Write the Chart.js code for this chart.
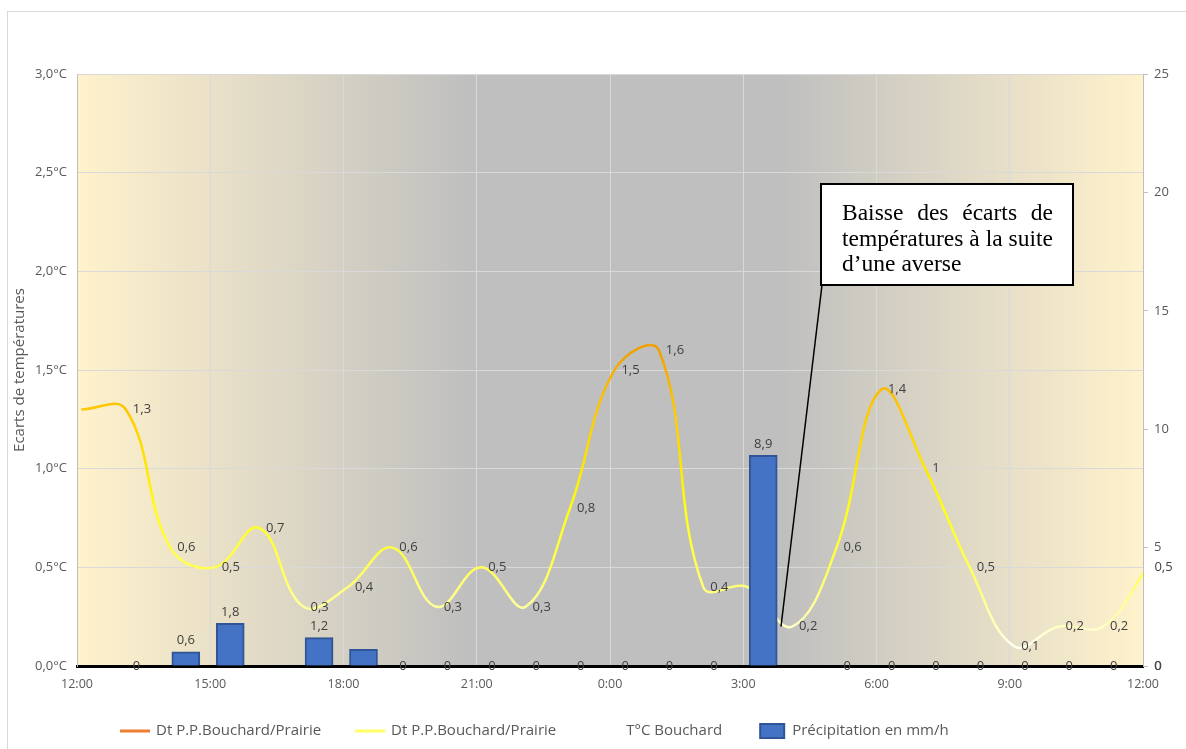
<!DOCTYPE html>
<html>
<head>
<meta charset="utf-8">
<script src="https://cdn.jsdelivr.net/npm/chart.js@4.4.1/dist/chart.umd.min.js"></script>
<style>
    html, body { margin: 0; padding: 0; background: #fff; }
    #wrap { position: relative; width: 1186px; height: 749px; }
</style>
</head>
<body>
<div id="wrap"><canvas id="chart"></canvas></div>
<script>
// heures écoulées depuis 12:00
const hours = [0.1, 1.1, 2.1, 3.1, 4.1, 5.1, 6.1, 7.1, 8.1, 9.1, 10.1, 11.1, 12.1,
    13.1, 14.1, 15.1, 16.1, 17.1, 18.1, 19.1, 20.1, 21.1, 22.1, 23.1, 24.1];
const ecarts = [1.3, 1.3, 0.6, 0.5, 0.7, 0.3, 0.4, 0.6, 0.3, 0.5, 0.3, 0.8, 1.5,
    1.6, 0.4, 0.4, 0.2, 0.6, 1.4, 1.0, 0.5, 0.1, 0.2, 0.2, 0.5];
const tempBouchard = [null, 0, null, null, null, null, null, 0, 0, 0, 0, 0, 0,
    0, 0, null, null, 0, 0, 0, 0, 0, 0, 0, 0];
const precipitation = [0, 0, 0.6, 1.8, 0, 1.2, 0.7, 0, 0, 0, 0, 0, 0,
    0, 0, 8.9, 0, 0, 0, 0, 0, 0, 0, 0, 0];
const hiddenEcartLabels = [0];
const hiddenPrecipLabels = [6];
const barShift = 0.35;

const xTicks = ['12:00', '15:00', '18:00', '21:00', '0:00', '3:00', '6:00', '9:00', '12:00'];
const legendItems = [
    { kind: 'line', color: '#ed7d31', text: 'Dt P.P.Bouchard/Prairie' },
    { kind: 'line', color: '#ffff66', text: 'Dt P.P.Bouchard/Prairie' },
    { kind: 'none', color: null, text: 'T°C Bouchard' },
    { kind: 'box', color: '#4472c4', text: 'Précipitation en mm/h' }
];
const calloutLines = ['Baisse des écarts de', 'températures à la suite', 'd’une averse'];

const FONT = "'Open Sans', sans-serif";
const fmt = v => String(v).replace('.', ',');

function lineGradient(context) {
    const chart = context.chart;
    const area = chart.chartArea;
    if (!area) return '#ffcc00';
    const y = chart.scales.y;
    const g = chart.ctx.createLinearGradient(0, y.getPixelForValue(0), 0, y.getPixelForValue(1.6));
    g.addColorStop(0, '#ffffff');
    g.addColorStop(0.0625, '#fffff0');
    g.addColorStop(0.125, '#ffffc4');
    g.addColorStop(0.1875, '#ffff9c');
    g.addColorStop(0.3125, '#ffff55');
    g.addColorStop(0.5, '#ffff14');
    g.addColorStop(0.625, '#ffe800');
    g.addColorStop(0.8125, '#ffc800');
    g.addColorStop(1, '#f0a000');
    return g;
}

const backdrop = {
    id: 'backdrop',
    beforeDraw(chart) {
        const { ctx, chartArea: a } = chart;
        ctx.save();
        ctx.strokeStyle = '#d9d9d9';
        ctx.lineWidth = 1;
        ctx.strokeRect(7.5, 11.5, 1300, 900);
        const g = ctx.createLinearGradient(a.left, 0, a.right, 0);
        g.addColorStop(0, '#fff2cc');
        g.addColorStop(0.37, '#bfbfbf');
        g.addColorStop(0.66, '#bfbfbf');
        g.addColorStop(1, '#fff2cc');
        ctx.fillStyle = g;
        ctx.fillRect(a.left, a.top, a.right - a.left, a.bottom - a.top);
        ctx.restore();
    }
};

const valueLabels = {
    id: 'valueLabels',
    beforeDatasetDraw(chart, args) {
        if (args.index !== 0) return;
        const ctx = chart.ctx;
        ctx.save();
        ctx.font = '13px ' + FONT;
        ctx.fillStyle = '#404040';
        ctx.textAlign = 'center';
        ctx.textBaseline = 'middle';
        args.meta.data.forEach((bar, i) => {
            if (!precipitation[i] || hiddenPrecipLabels.includes(i)) return;
            ctx.fillText(fmt(precipitation[i]), bar.x, bar.y - 11);
        });
        ctx.restore();
    },
    afterDatasetDraw(chart, args) {
        if (args.index === 0) return;
        const ctx = chart.ctx;
        ctx.save();
        ctx.font = '13px ' + FONT;
        ctx.fillStyle = '#404040';
        ctx.textAlign = 'left';
        ctx.textBaseline = 'middle';
        const values = args.index === 1 ? ecarts : tempBouchard;
        args.meta.data.forEach((pt, i) => {
            if (values[i] === null) return;
            if (args.index === 1 && hiddenEcartLabels.includes(i)) return;
            ctx.fillText(fmt(values[i]), pt.x + 7, pt.y);
        });
        ctx.restore();
    }
};

const extras = {
    id: 'extras',
    afterDraw(chart) {
        const ctx = chart.ctx;
        const xs = chart.scales.x, ys = chart.scales.y;
        ctx.save();

        // légende
        ctx.font = '15px ' + FONT;
        ctx.textBaseline = 'middle';
        ctx.textAlign = 'left';
        let x = 120;
        const ly = 731;
        legendItems.forEach(item => {
            if (item.kind === 'line') {
                ctx.strokeStyle = item.color;
                ctx.lineWidth = 3;
                ctx.beginPath();
                ctx.moveTo(x, ly);
                ctx.lineTo(x + 30, ly);
                ctx.stroke();
            } else if (item.kind === 'box') {
                ctx.fillStyle = '#2f5597';
                ctx.fillRect(x + 3, ly - 8, 26, 16);
                ctx.fillStyle = item.color;
                ctx.fillRect(x + 5, ly - 6, 22, 12);
            }
            ctx.fillStyle = '#595959';
            ctx.fillText(item.text, x + 36, ly);
            x += 36 + ctx.measureText(item.text).width + 34;
        });

        // encadré
        const bx = 821, by = 184, bw = 252, bh = 101;
        ctx.strokeStyle = '#000';
        ctx.lineWidth = 1.5;
        ctx.beginPath();
        ctx.moveTo(bx + 1, by + bh);
        ctx.lineTo(xs.getPixelForValue(hours[16] - 0.25), ys.getPixelForValue(ecarts[16]));
        ctx.stroke();
        ctx.fillStyle = '#fff';
        ctx.fillRect(bx, by, bw, bh);
        ctx.lineWidth = 2;
        ctx.strokeRect(bx, by, bw, bh);

        ctx.font = '23.5px "Liberation Serif", serif';
        ctx.fillStyle = '#000';
        ctx.textBaseline = 'alphabetic';
        const tx = 842, tw = 211;
        const rows = [220, 245.5, 271];
        calloutLines.forEach((line, r) => {
            if (r === calloutLines.length - 1) {
                ctx.fillText(line, tx, rows[r]);
                return;
            }
            const words = line.split(' ');
            const sum = words.reduce((s, w) => s + ctx.measureText(w).width, 0);
            const gap = (tw - sum) / (words.length - 1);
            let cx = tx;
            words.forEach(w => {
                ctx.fillText(w, cx, rows[r]);
                cx += ctx.measureText(w).width + gap;
            });
        });
        ctx.restore();
    }
};

Chart.defaults.font.family = FONT;
Chart.defaults.color = '#595959';

new Chart(document.getElementById('chart'), {
    type: 'line',
    data: {
        datasets: [{
            type: 'bar',
            label: 'Précipitation en mm/h',
            data: precipitation.map((v, i) => ({ x: hours[i] + barShift, y: v })),
            yAxisID: 'y1',
            backgroundColor: '#4472c4',
            borderColor: '#2f5597',
            borderWidth: 2,
            barThickness: 28,
            order: 0
        }, {
            label: 'Dt P.P.Bouchard/Prairie',
            data: ecarts.map((v, i) => ({ x: hours[i], y: v })),
            yAxisID: 'y',
            borderColor: lineGradient,
            borderWidth: 2.5,
            pointRadius: 0,
            tension: 0.4,
            clip: 0,
            order: 1
        }, {
            label: 'T°C Bouchard',
            data: tempBouchard.map((v, i) => ({ x: hours[i], y: v })),
            yAxisID: 'y',
            showLine: false,
            pointRadius: 0,
            order: 2
        }]
    },
    options: {
        responsive: true,
        maintainAspectRatio: false,
        animation: false,
        layout: { padding: { top: 74, left: 8, right: 0, bottom: 0 } },
        plugins: {
            legend: { display: false },
            tooltip: { enabled: false }
        },
        scales: {
            x: {
                type: 'linear',
                min: 0,
                max: 24,
                offset: false,
                afterFit: s => { s.height = 83; },
                afterBuildTicks: s => { s.ticks = xTicks.map((t, i) => ({ value: i * 3 })); },
                ticks: {
                    autoSkip: false,
                    maxRotation: 0,
                    padding: 11,
                    font: { size: 12.5 },
                    color: '#595959',
                    callback: (v, i) => xTicks[i]
                },
                grid: { color: '#d9d9d9', drawTicks: false, offset: false },
                border: { color: '#000', width: 3 }
            },
            y: {
                position: 'left',
                min: 0,
                max: 3,
                afterFit: s => { s.width = 69; },
                ticks: {
                    stepSize: 0.5,
                    padding: 10,
                    font: { size: 13 },
                    color: '#595959',
                    callback: v => v.toFixed(1).replace('.', ',') + '°C'
                },
                grid: { color: '#d9d9d9', drawTicks: false },
                border: { color: '#bfbfbf', width: 1 },
                title: {
                    display: true,
                    text: 'Ecarts de températures',
                    color: '#595959',
                    font: { size: 15 },
                    padding: { top: 3, bottom: 0 }
                }
            },
            y1: {
                position: 'right',
                min: 0,
                max: 25,
                afterFit: s => { s.width = 43; },
                ticks: {
                    stepSize: 5,
                    padding: 6,
                    font: { size: 13 },
                    color: '#595959'
                },
                grid: { drawOnChartArea: false, drawTicks: true, tickLength: 5, color: '#bfbfbf' },
                border: { color: '#bfbfbf', width: 1 }
            }
        }
    },
    plugins: [backdrop, valueLabels, extras]
});
</script>
</body>
</html>
